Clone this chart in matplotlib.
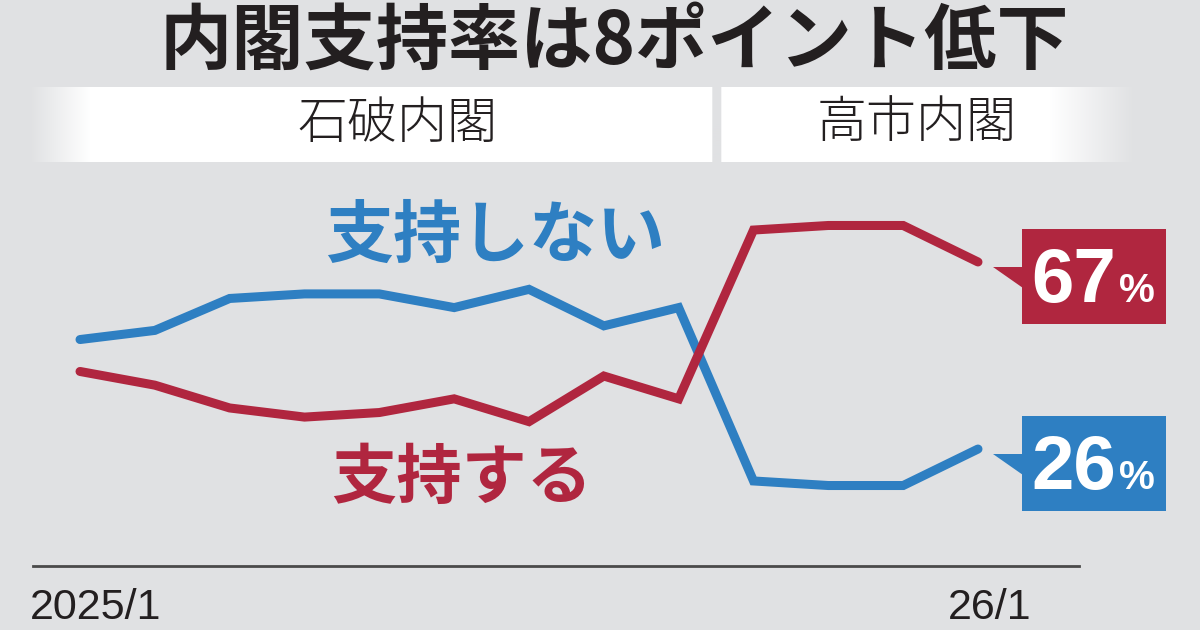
import numpy as np
import matplotlib.pyplot as plt
from matplotlib.patches import Rectangle, Polygon

# monthly poll, 2025/1 .. 2026/1
months = list(range(13))
oppose = [50, 52, 59, 60, 60, 57, 61, 53, 57, 19, 18, 18, 26]   # 支持しない
support = [43, 40, 35, 33, 34, 37, 32, 42, 37, 74, 75, 75, 67]  # 支持する
tick_labels = ["2025/1", "26/1"]
cabinets = ["石破内閣", "高市内閣"]

BG = "#e0e1e3"
BLUE = "#2e7fc2"
RED = "#b0263f"
W, H = 1200, 630

plt.rcParams['font.family'] = ['Noto Sans CJK JP', 'DejaVu Sans']

fig = plt.figure(figsize=(12, 6.3), dpi=100)
fig.patch.set_facecolor(BG)

def fx(px):
    return px / W

def fy(py):
    return 1 - py / H

# title
fig.text(fx(614), fy(42), "内閣支持率は8ポイント低下", ha="center", va="center",
         fontsize=52, fontweight="bold", color="#231f20")

# cabinet header bands with soft fade at outer edges
band_ax = fig.add_axes([fx(30), fy(162), fx(1135 - 30), (162 - 87) / H])
band_ax.set_xlim(30, 1135)
band_ax.set_ylim(0, 1)
band_ax.axis("off")
xs = np.linspace(30, 1135, 1106)
alpha = np.ones_like(xs)
alpha = np.where(xs < 90, (xs - 30) / 60, alpha)
alpha = np.where(xs > 1050, (1135 - xs) / 85, alpha)
alpha = np.where((xs > 712) & (xs < 722), 0, alpha)
bg_rgb = np.array([0xe0, 0xe1, 0xe3]) / 255
img = bg_rgb[None, :] * (1 - alpha[:, None]) + np.ones(3)[None, :] * alpha[:, None]
band_ax.imshow(img[None, :, :], aspect="auto", extent=(30, 1135, 0, 1))
band_ax.text(397, 0.5, cabinets[0], ha="center", va="center", fontsize=36,
             fontweight="light", color="#231f20")
band_ax.text(917, 0.5, cabinets[1], ha="center", va="center", fontsize=36,
             fontweight="light", color="#231f20")

# main line chart
ax = fig.add_axes([fx(80), 0.1714, fx(978 - 80), 0.5069])
ax.set_xlim(0, 12)
ax.set_ylim(10, 80)
ax.axis("off")
ax.plot(months, oppose, color=BLUE, lw=6.5, solid_capstyle="round",
        solid_joinstyle="miter", clip_on=False, zorder=3)
ax.plot(months, support, color=RED, lw=6.5, solid_capstyle="round",
        solid_joinstyle="miter", clip_on=False, zorder=4)

fig.text(fx(495), fy(237), "支持しない", ha="center", va="center",
         fontsize=49, fontweight="bold", color=BLUE)
fig.text(fx(462), fy(478), "支持する", ha="center", va="center",
         fontsize=47, fontweight="bold", color=RED)

# value call-out boxes anchored to last data points
fig.canvas.draw()
for vals, col in [(support, RED), (oppose, BLUE)]:
    px, py = ax.transData.transform((months[-1], vals[-1]))  # display px, origin bottom
    tip_x, tip_y = px + 15, py - 5
    bx0, bx1 = px + 44, px + 188
    by_top, by_bot = py + 33, py - 62
    fig.patches.append(Rectangle((bx0 / W, by_bot / H), (bx1 - bx0) / W,
                                 (by_top - by_bot) / H, transform=fig.transFigure,
                                 facecolor=col, edgecolor="none"))
    fig.patches.append(Polygon([(tip_x / W, tip_y / H), ((bx0 + 1) / W, tip_y / H),
                                ((bx0 + 1) / W, (tip_y - 21) / H)],
                               closed=True, transform=fig.transFigure,
                               facecolor=col, edgecolor="none"))
    base = (py - 40) / H
    fig.text((bx0 + 9) / W, base, f"{vals[-1]}", ha="left", va="baseline",
             fontsize=55, fontweight="bold", color="white",
             family=["Liberation Sans", "DejaVu Sans"])
    fig.text((bx0 + 97) / W, base, "%", ha="left", va="baseline",
             fontsize=29, fontweight="bold", color="white",
             family=["Liberation Sans", "DejaVu Sans"])

# baseline and end labels
fig.add_artist(plt.Line2D([fx(33), fx(1079)], [fy(566), fy(566)], color="#4a4a4a", lw=2))
fig.text(fx(30), fy(619), tick_labels[0], ha="left", va="baseline", fontsize=31,
         color="#231f20", family=["Liberation Sans", "DejaVu Sans"])
fig.text(fx(1032), fy(619), tick_labels[1], ha="right", va="baseline", fontsize=31,
         color="#231f20", family=["Liberation Sans", "DejaVu Sans"])

fig.savefig("out.png", dpi=100, facecolor=BG)
